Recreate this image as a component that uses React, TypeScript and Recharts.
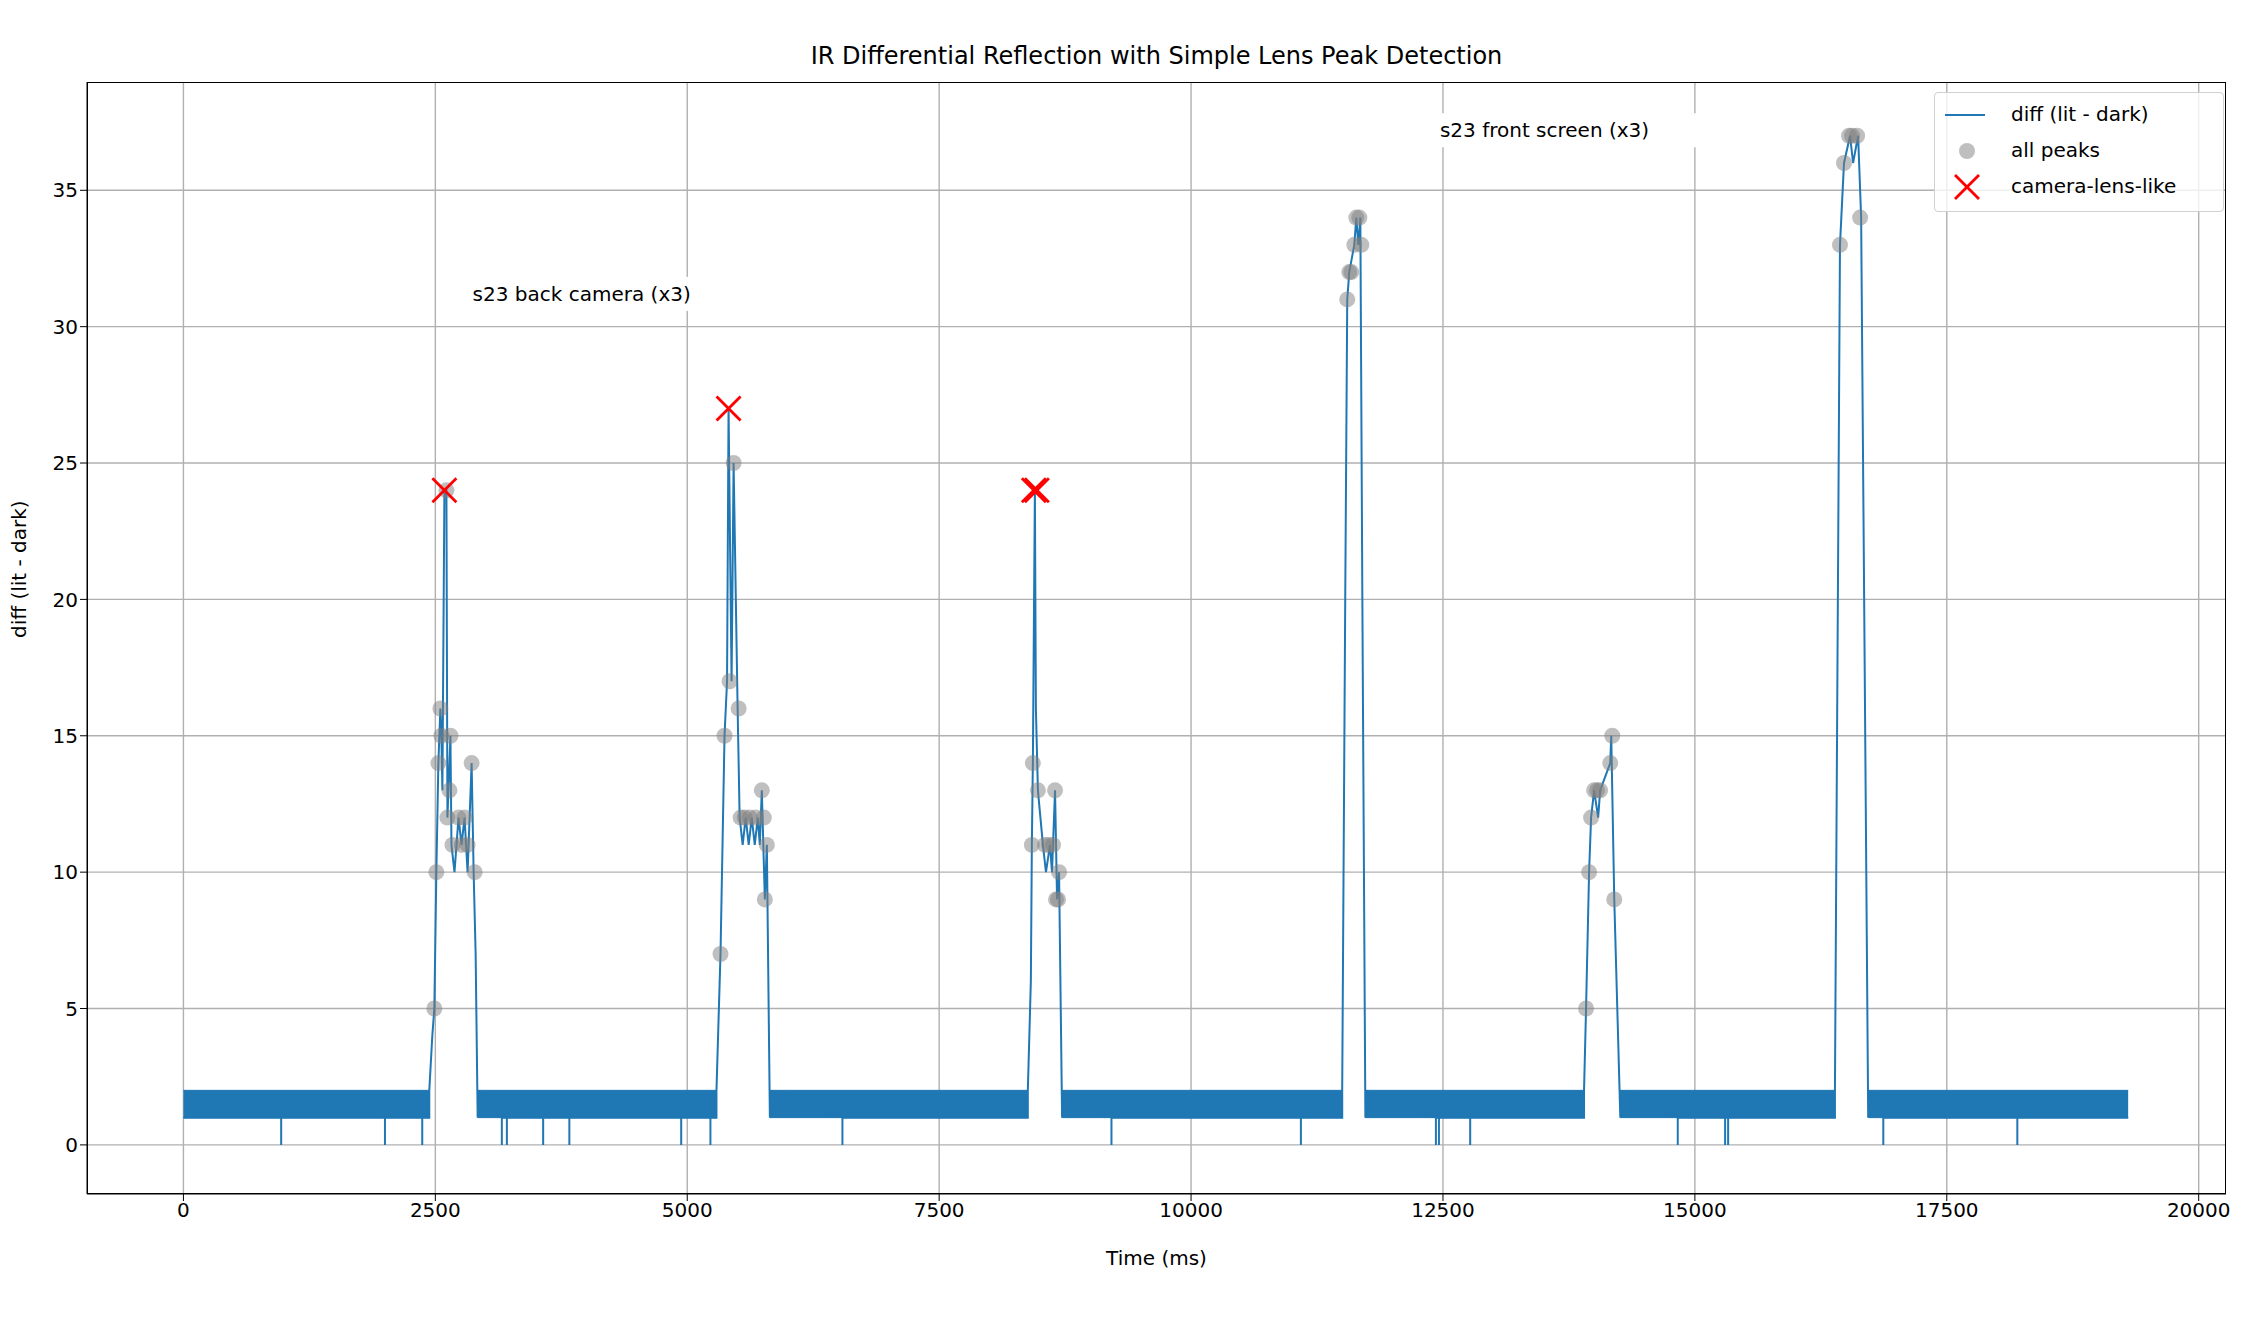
import React from "react";
import {
  ComposedChart, Line, Area, Scatter, XAxis, YAxis, CartesianGrid, ReferenceDot,
} from "recharts";

const xTicks = [0, 2500, 5000, 7500, 10000, 12500, 15000, 17500, 20000];
const yTicks = [0, 5, 10, 15, 20, 25, 30, 35];

// noisy 1..2 baseline stretches between bumps
const baselineSegments: [number, number][] = [
  [0, 2440], [2920, 5290], [5820, 8380], [8720, 11500], [11730, 13900], [14260, 16390], [16720, 19300],
];
const dipTimes = [970, 2000, 2370, 3160, 3210, 3570, 3830, 4940, 5230, 6540, 9210, 11090, 12430, 12460, 12770, 14830, 15300, 15330, 16870, 18200];

const bumpTrace: [number, number][] = [
  [2440, 2], [2470, 4], [2490, 5], [2510, 10], [2530, 14], [2550, 16], [2560, 15], [2570, 13], [2590, 24], [2610, 24], [2620, 12],
  [2650, 15], [2660, 11], [2690, 10], [2730, 12], [2760, 11], [2790, 12], [2820, 10], [2860, 14], [2880, 10], [2900, 7], [2920, 2],
  [5290, 2], [5330, 7], [5370, 15], [5395, 17], [5410, 27], [5440, 17], [5460, 25], [5500, 16], [5520, 12], [5550, 11], [5580, 12],
  [5610, 11], [5640, 12], [5670, 11], [5700, 12], [5720, 11], [5740, 13], [5770, 9], [5790, 11], [5820, 2],
  [8380, 2], [8410, 6], [8420, 11], [8430, 14], [8450, 24], [8460, 16], [8480, 13], [8530, 11], [8560, 10], [8600, 11], [8620, 10],
  [8650, 13], [8670, 9], [8690, 10], [8720, 2],
  [11500, 2], [11530, 20], [11550, 31], [11570, 32], [11620, 33], [11640, 34], [11660, 33], [11680, 34], [11700, 20], [11730, 2],
  [13900, 2], [13920, 5], [13950, 10], [13970, 12], [14000, 13], [14040, 12], [14060, 13], [14160, 14], [14170, 15], [14200, 9], [14260, 2],
  [16390, 2], [16440, 33], [16480, 36], [16540, 37], [16570, 36], [16620, 37], [16650, 34], [16680, 20], [16720, 2],
];

const allPeaks: [number, number][] = [
  [2490, 5], [2510, 10], [2530, 14], [2550, 16], [2560, 15], [2610, 24], [2620, 12], [2640, 13], [2650, 15], [2670, 11],
  [2730, 12], [2760, 11], [2790, 12], [2820, 11], [2860, 14], [2890, 10],
  [5330, 7], [5370, 15], [5420, 17], [5460, 25], [5510, 16], [5530, 12], [5570, 12], [5620, 12], [5680, 12], [5740, 13], [5760, 12], [5770, 9], [5790, 11],
  [8420, 11], [8430, 14], [8480, 13], [8550, 11], [8590, 11], [8630, 11], [8650, 13], [8660, 9], [8680, 9], [8690, 10],
  [11550, 31], [11570, 32], [11590, 32], [11620, 33], [11640, 34], [11670, 34], [11690, 33],
  [13920, 5], [13950, 10], [13970, 12], [14000, 13], [14030, 13], [14060, 13], [14160, 14], [14180, 15], [14200, 9],
  [16440, 33], [16480, 36], [16530, 37], [16560, 37], [16610, 37], [16640, 34],
];
const lensPeaks: [number, number][] = [[2590, 24], [5410, 27], [8440, 24], [8470, 24]];

const annotations = [
  { x: 2870, y: 31.2, text: "s23 back camera (x3)" },
  { x: 12470, y: 37.2, text: "s23  front screen (x3)" },
];

const BLUE = "#1f77b4";
const FONT = "DejaVu Sans, sans-serif";
const FS = 20;

// build line trace: baseline at 1 with dips, plus bumps
const lineData = (() => {
  const pts: { x: number; y: number }[] = [];
  baselineSegments.forEach(([s, e]) => {
    pts.push({ x: s, y: 1 });
    dipTimes.filter((t) => t > s && t < e).forEach((t) => {
      pts.push({ x: t, y: 1 }, { x: t, y: 0 }, { x: t, y: 1 });
    });
    pts.push({ x: e, y: 1 });
  });
  bumpTrace.forEach(([x, y]) => pts.push({ x, y }));
  return pts.sort((a, b) => a.x - b.x);
})();

const Cross = (props: any) => {
  const { cx, cy } = props;
  const r = 12;
  return (
    <g stroke="red" strokeWidth={2.8}>
      <line x1={cx - r} y1={cy - r} x2={cx + r} y2={cy + r} />
      <line x1={cx - r} y1={cy + r} x2={cx + r} y2={cy - r} />
    </g>
  );
};

const Dot = (props: any) => (
  <circle cx={props.cx} cy={props.cy} r={8} fill="gray" fillOpacity={0.5} />
);

const Note = (text: string) => (props: any) => {
  const { x, y } = props.viewBox;
  const w = text.length * 12 + 12;
  return (
    <g>
      <rect x={x - 6} y={y - 17} width={w} height={34} fill="white" />
      <text x={x} y={y + 7} fontSize={FS} fontFamily={FONT} fill="black">{text}</text>
    </g>
  );
};

export default function App() {
  return (
    <div style={{ position: "absolute", left: 0, top: 0, width: 2256, height: 1318, background: "white", fontFamily: FONT }}>
      <div style={{ position: "absolute", top: 42, left: 87, width: 2139, textAlign: "center", fontSize: 24 }}>
        IR Differential Reflection with Simple Lens Peak Detection
      </div>
      <ComposedChart width={2256} height={1318} margin={{ top: 82, right: 30, bottom: 0, left: 0 }}>
        <CartesianGrid stroke="#b0b0b0" strokeWidth={1.4} verticalValues={xTicks} horizontalValues={yTicks} />
        <XAxis type="number" dataKey="x" domain={[-957, 20271]} ticks={xTicks} allowDataOverflow height={124}
          stroke="black" tickSize={7} tick={{ fontSize: FS, fill: "black", fontFamily: FONT }}
          label={{ value: "Time (ms)", position: "insideTop", dy: 52, fontSize: FS, fill: "black", fontFamily: FONT }} />
        <YAxis type="number" domain={[-1.8, 38.97]} ticks={yTicks} allowDataOverflow width={87}
          stroke="black" tickSize={7} tick={{ fontSize: FS, fill: "black", fontFamily: FONT }}
          label={{ value: "diff (lit - dark)", angle: -90, position: "insideLeft", dx: 14, fontSize: FS, fill: "black", fontFamily: FONT }} />
        {baselineSegments.map(([s, e], i) => (
          <Area key={i} data={[{ x: s, band: [1, 2] }, { x: e, band: [1, 2] }]} dataKey="band" type="linear"
            stroke={BLUE} strokeWidth={1} fill={BLUE} fillOpacity={1} isAnimationActive={false} />
        ))}
        <Line data={lineData} dataKey="y" type="linear" stroke={BLUE} strokeWidth={2} dot={false} isAnimationActive={false} />
        <Scatter data={allPeaks.map(([x, y]) => ({ x, y }))} dataKey="y" shape={Dot} isAnimationActive={false} />
        <Scatter data={lensPeaks.map(([x, y]) => ({ x, y }))} dataKey="y" shape={Cross} isAnimationActive={false} />
        {annotations.map((a, i) => (
          <ReferenceDot key={i} x={a.x} y={a.y} r={0} fill="none" stroke="none" label={{ content: Note(a.text) }} />
        ))}
      </ComposedChart>
      <div style={{ position: "absolute", left: 87, top: 82, width: 2139, height: 1112, border: "1.5px solid black", boxSizing: "border-box", pointerEvents: "none" }} />
      <div style={{ position: "absolute", left: 1934, top: 92, width: 288, height: 118, border: "1.5px solid #d0d0d0", borderRadius: 4, background: "rgba(255,255,255,0.8)", fontSize: FS }}>
        <svg style={{ position: "absolute", left: 0, top: 0 }} width={288} height={118}>
          <line x1={10} y1={22} x2={50} y2={22} stroke={BLUE} strokeWidth={2} />
          <circle cx={32} cy={58} r={8} fill="gray" fillOpacity={0.5} />
          <g stroke="red" strokeWidth={2.8}>
            <line x1={20} y1={82} x2={44} y2={106} />
            <line x1={20} y1={106} x2={44} y2={82} />
          </g>
        </svg>
        <div style={{ position: "absolute", left: 76, top: 9 }}>diff (lit - dark)</div>
        <div style={{ position: "absolute", left: 76, top: 45 }}>all peaks</div>
        <div style={{ position: "absolute", left: 76, top: 81 }}>camera-lens-like</div>
      </div>
    </div>
  );
}
